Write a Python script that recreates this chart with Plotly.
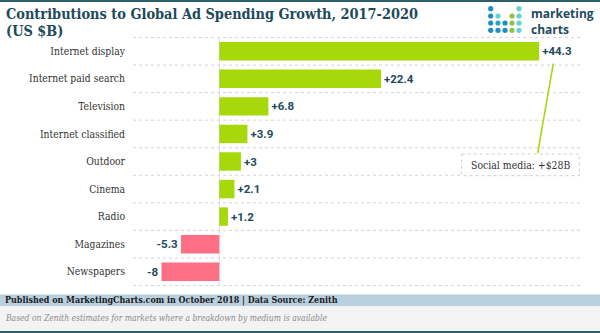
import plotly.graph_objects as go

# Contribution to global ad spend growth 2017-2020, US $B
categories = ["Internet display", "Internet paid search", "Television",
              "Internet classified", "Outdoor", "Cinema", "Radio",
              "Magazines", "Newspapers"]
values = [44.3, 22.4, 6.8, 3.9, 3, 2.1, 1.2, -5.3, -8]
value_labels = [f"{v:+g}" for v in values]

title_text = "Contributions to Global Ad Spending Growth, 2017-2020"
subtitle_text = "(US $B)"
logo_text = "marketing<br>charts"
callout_text = "Social media: +$28B"
source_text = "Published on MarketingCharts.com in October 2018 | Data Source: Zenith"
note_text = "Based on Zenith estimates for markets where a breakdown by medium is available"

W, H = 600, 333
L, R, T, B = 133, 20, 37, 47
PW, PH = W - L - R, H - T - B

GREEN = "#a6d80a"
PINK = "#fe6f86"
DARK = "#1e4a5c"
SLAB = "DejaVu Serif Condensed"


def px(x):
    return (x - L) / PW


def py(y):
    return (H - B - y) / PH


bar_colors = [GREEN if v >= 0 else PINK for v in values]

fig = go.Figure(go.Bar(
    x=values, y=categories, orientation="h",
    marker=dict(color=bar_colors, line=dict(width=0)),
    text=value_labels, textposition="outside", cliponaxis=False,
    textfont=dict(family="Roboto", size=11.5, color=DARK, weight="bold"),
    hoverinfo="skip",
))

shapes = []
# dotted row separators
for i in range(len(categories) + 1):
    shapes.append(dict(type="line", xref="paper", yref="y",
                       x0=0, x1=1, y0=i - 0.5, y1=i - 0.5,
                       line=dict(color="#d4d4d4", width=1, dash="dot"),
                       layer="below"))
# zero line
shapes.append(dict(type="line", xref="x", yref="paper", x0=0, x1=0, y0=0, y1=1,
                   line=dict(color="#dcdcdc", width=1), layer="below"))
# top and bottom frame strips
shapes.append(dict(type="rect", xref="paper", yref="paper",
                   x0=px(0), x1=px(W), y0=py(0), y1=py(2),
                   fillcolor="#2c5f6e", line=dict(width=0)))
shapes.append(dict(type="rect", xref="paper", yref="paper",
                   x0=px(0), x1=px(W), y0=py(294), y1=py(306),
                   fillcolor="#b9d0de", line=dict(width=0)))
shapes.append(dict(type="line", xref="paper", yref="paper",
                   x0=px(0), x1=px(W), y0=py(294.5), y1=py(294.5),
                   line=dict(color="#d6e4ec", width=1)))
shapes.append(dict(type="rect", xref="paper", yref="paper",
                   x0=px(0), x1=px(W), y0=py(306), y1=py(331),
                   fillcolor="#f3f3f3", line=dict(width=0)))
shapes.append(dict(type="rect", xref="paper", yref="paper",
                   x0=px(0), x1=px(W), y0=py(331), y1=py(H),
                   fillcolor="#2c5f6e", line=dict(width=0)))
# callout leader line and box
shapes.append(dict(type="line", xref="paper", yref="paper",
                   x0=px(537.7), y0=py(153), x1=px(553.3), y1=py(63.5),
                   line=dict(color=GREEN, width=1.5)))
shapes.append(dict(type="rect", xref="paper", yref="paper",
                   x0=px(461.7), x1=px(579.3), y0=py(154), y1=py(175.7),
                   fillcolor="white", line=dict(color="#cfcfcf", width=1, dash="dot")))

# logo dot grid
BLUE, TEAL, LTEAL, LGREEN = "#1b8ec2", "#2aa5bd", "#62d2d6", "#8cc63e"
logo_cols = [490.7, 498, 505, 512, 519]
logo_rows = [8.7, 16, 23, 30.3]
logo_dots = [
    [BLUE, None, None, None, LTEAL],
    [BLUE, LTEAL, None, LGREEN, LTEAL],
    [BLUE, TEAL, BLUE, LGREEN, LTEAL],
    [BLUE, BLUE, BLUE, LGREEN, LTEAL],
]
r = 2.6
for ri, row in enumerate(logo_dots):
    for ci, c in enumerate(row):
        if c is None:
            continue
        cx, cy = logo_cols[ci], logo_rows[ri]
        shapes.append(dict(type="circle", xref="paper", yref="paper",
                           x0=px(cx - r), x1=px(cx + r), y0=py(cy + r), y1=py(cy - r),
                           fillcolor=c, line=dict(width=0)))

annotations = [
    dict(text=f"<b>{title_text}</b>", xref="paper", yref="paper",
         x=px(4), y=py(3), xanchor="left", yanchor="top", showarrow=False,
         font=dict(family=SLAB, size=14.4, color=DARK)),
    dict(text=f"<b>{subtitle_text}</b>", xref="paper", yref="paper",
         x=px(4), y=py(20), xanchor="left", yanchor="top", showarrow=False,
         font=dict(family=SLAB, size=14.4, color=DARK)),
    dict(text=f"<b>{logo_text}</b>", xref="paper", yref="paper",
         x=px(529), y=py(21), xanchor="left", yanchor="middle", align="left",
         showarrow=False, font=dict(family="Open Sans", size=12, color=DARK)),
    dict(text=callout_text, xref="paper", yref="paper",
         x=px(520.5), y=py(165), xanchor="center", yanchor="middle", showarrow=False,
         font=dict(family=SLAB, size=10.4, color="#333333")),
    dict(text=f"<b>{source_text}</b>", xref="paper", yref="paper",
         x=px(3), y=py(300), xanchor="left", yanchor="middle", showarrow=False,
         font=dict(family=SLAB, size=8.9, color="#1a1a1a")),
    dict(text=f"<i>{note_text}</i>", xref="paper", yref="paper",
         x=px(3), y=py(318), xanchor="left", yanchor="middle", showarrow=False,
         font=dict(family=SLAB, size=8.5, color="#8a8a8a")),
]

fig.update_layout(
    width=W, height=H,
    margin=dict(l=L, r=R, t=T, b=B, pad=0),
    paper_bgcolor="white", plot_bgcolor="white",
    showlegend=False, bargap=0.33,
    shapes=shapes, annotations=annotations,
    xaxis=dict(range=[-11.95, 49.96], showgrid=False, zeroline=False,
               showticklabels=False, showline=False, fixedrange=True),
    yaxis=dict(autorange="reversed", showgrid=False, zeroline=False,
               showline=False, ticks="", ticklabelstandoff=7,
               tickfont=dict(family=SLAB, size=10.3, color="#333333"),
               fixedrange=True),
)

fig.write_html("out.html", config={"displayModeBar": False})
